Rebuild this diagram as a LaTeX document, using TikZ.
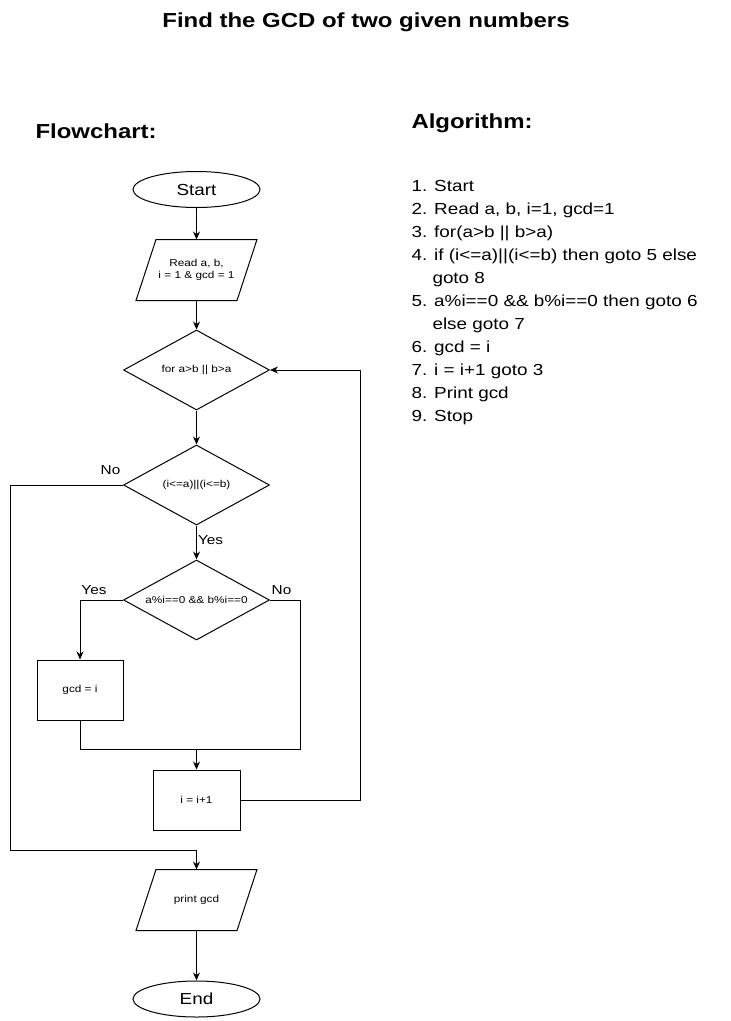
\documentclass[tikz,border=0pt]{standalone}
\usepackage{fontspec}
\setmainfont{Liberation Sans}[FakeStretch=1.18]
\usetikzlibrary{shapes.geometric,arrows.meta}
\begin{document}
\begin{tikzpicture}[x=1pt,y=-1pt,
  line width=1pt,
  arr/.style={-{Stealth[length=8pt,width=7pt]}},
  term/.style={draw,ellipse,minimum width=127pt,minimum height=36pt,inner sep=0pt,
    font=\fontsize{16}{19}\selectfont},
  io/.style={rectangle,minimum width=120pt,minimum height=60pt,inner sep=0pt,
    font=\fontsize{10}{12}\selectfont,align=center},
  dec/.style={draw,diamond,shape aspect=1.825,minimum width=146pt,minimum height=80pt,
    inner sep=0pt,font=\fontsize{10}{12}\selectfont},
  proc/.style={draw,rectangle,minimum height=60pt,inner sep=0pt,
    font=\fontsize{10}{12}\selectfont},
  lab/.style={inner sep=0pt,font=\fontsize{13}{15}\selectfont},
  head/.style={inner sep=0pt,anchor=base west,font=\fontsize{20.3}{24}\selectfont\bfseries},
  alg/.style={inner sep=0pt,anchor=base west,font=\fontsize{16}{19}\selectfont}
]
\fill[white] (0,0) rectangle (731,1021);
\useasboundingbox (0,0) rectangle (731,1021);

% titles
\node[inner sep=0pt,anchor=base,font=\fontsize{20.3}{24}\selectfont\bfseries] (title) at (366,27.5) {Find the GCD of two given numbers};
\node[head] (hflow) at (35,138) {Flowchart:};
\node[head] (halg) at (411,128.5) {Algorithm:};

% flowchart nodes
\node[term] (start) at (196.5,189.5) {Start};
\node[io] (read) at (196.5,270) {Read a, b,\\ i = 1 \& gcd = 1};
\node[dec] (d1) at (196.5,370) {for a>b || b>a};
\node[dec] (d2) at (196.5,485) {(i<=a)||(i<=b)};
\node[dec] (d3) at (196.5,600) {a\%i==0 \&\& b\%i==0};
\node[proc,minimum width=86pt] (gcd) at (80,690) {gcd = i};
\node[proc,minimum width=87pt] (inc) at (196.5,800) {i = i+1};
\node[io] (print) at (196.5,900) {print gcd};
\node[term] (end) at (196.5,999) {End};

% slanted outlines of the input/output boxes
\foreach \n in {read,print}
  \draw (\n.south west) -- ++(101,0) -- (\n.north east) -- ++(-101,0) -- cycle;

% bend points of the connectors
\coordinate (noL) at (10,850);
\coordinate (noR) at (300,749);
\coordinate (merge) at (196.5,749);
\coordinate (loopR) at (360,370);

% connectors
\draw[arr] (start) -- (read);
\draw[arr] (read) -- (d1);
\draw[arr] (d1) -- (d2);
\draw[arr] (d2) -- (d3);
\draw[arr] (d2.west) -| (noL) -| (print.north);
\draw[arr] (d3.west) -| (gcd.north);
\draw (d3.east) -| (noR) -- (merge);
\draw (gcd.south) |- (merge);
\draw[arr] (merge) -- (inc.north);
\draw[arr] (inc.east) -| (loopR) -- (d1.east);
\draw[arr] (print) -- (end);

% branch labels
\node[lab] (lno1) at (110.5,470.5) {No};
\node[lab,anchor=west] (lyes1) at (197.5,540.5) {Yes};
\node[lab] (lyes2) at (94,590.5) {Yes};
\node[lab] (lno2) at (281.5,590.5) {No};

% algorithm steps
\node[alg] (s1) at (411,191) {1. Start};
\node[alg] (s2) at (411,214) {2. Read a, b, i=1, gcd=1};
\node[alg] (s3) at (411,237) {3. for(a>b || b>a)};
\node[alg] (s4) at (411,260) {4. if (i<=a)||(i<=b) then goto 5 else};
\node[alg] (s4b) at (432,283) {goto 8};
\node[alg] (s5) at (411,306) {5. a\%i==0 \&\& b\%i==0 then goto 6};
\node[alg] (s5b) at (432,329) {else goto 7};
\node[alg] (s6) at (411,352) {6. gcd = i};
\node[alg] (s7) at (411,375) {7. i = i+1 goto 3};
\node[alg] (s8) at (411,398) {8. Print gcd};
\node[alg] (s9) at (411,421) {9. Stop};
\end{tikzpicture}
\end{document}
